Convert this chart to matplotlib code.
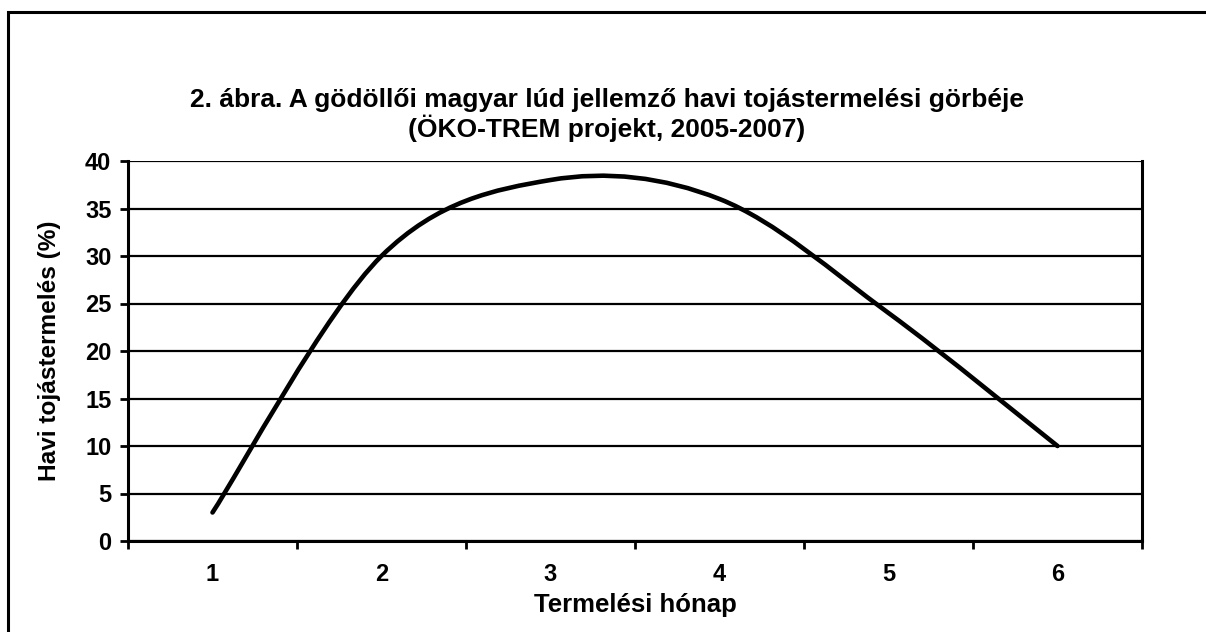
import numpy as np
import matplotlib
matplotlib.use("Agg")
from matplotlib import pyplot as plt
from matplotlib.path import Path
from matplotlib.patches import PathPatch, Rectangle

plt.rcParams['font.family'] = ['Liberation Sans', 'DejaVu Sans']
plt.rcParams['font.weight'] = 'bold'

months = [1, 2, 3, 4, 5, 6]
production = [3, 30, 38, 36, 24, 10]
y_ticks = [0, 5, 10, 15, 20, 25, 30, 35, 40]

title_lines = ["2. ábra. A gödöllői magyar lúd jellemző havi tojástermelési görbéje",
               "(ÖKO-TREM projekt, 2005-2007)"]
xlabel = "Termelési hónap"
ylabel = "Havi tojástermelés (%)"

W, H = 1206, 632
fig = plt.figure(figsize=(W / 100, H / 100), dpi=100)
ax = fig.add_axes([128 / W, 1 - 541 / H, (1142 - 128) / W, (541 - 161) / H])

# smoothed line like Excel (Catmull-Rom as cubic Bezier)
pts = np.column_stack([months, production]).astype(float)
n = len(pts)
verts = [pts[0]]
codes = [Path.MOVETO]
for i in range(n - 1):
    p0 = pts[i - 1] if i > 0 else pts[i]
    p1 = pts[i]
    p2 = pts[i + 1]
    p3 = pts[i + 2] if i + 2 < n else pts[i + 1]
    c1 = p1 + (p2 - p0) / 6
    c2 = p2 - (p3 - p1) / 6
    verts += [c1, c2, p2]
    codes += [Path.CURVE4] * 3
ax.add_patch(PathPatch(Path(verts, codes), fill=False, lw=3.3, color='black',
                       capstyle='round', joinstyle='round', zorder=3))

ax.set_xlim(0.5, 6.5)
ax.set_ylim(0, 40)
ax.set_yticks(y_ticks)
ax.set_xticks(months)
ax.set_xticks(np.arange(0.5, 7, 1), minor=True)
ax.tick_params(axis='x', which='major', length=0, pad=16, labelsize=17)
ax.tick_params(axis='x', which='minor', length=6, width=2, direction='out')
ax.tick_params(axis='y', length=6, width=2, direction='out', pad=6, labelsize=17)
for lab in ax.get_xticklabels() + ax.get_yticklabels():
    lab.set_fontweight('bold')

ax.grid(axis='y', color='black', lw=1.6)
ax.set_axisbelow(True)
ax.spines['top'].set_visible(False)
for s in ['left', 'right', 'bottom']:
    ax.spines[s].set_linewidth(2.2)

ax.set_xlabel(xlabel, fontsize=18.5, fontweight='bold', labelpad=5)
ax.set_ylabel(ylabel, fontsize=17.6, fontweight='bold', labelpad=17)
for k, line in enumerate(title_lines):
    fig.text(607 / W, 1 - (100 + 28 * k) / H, line, ha='center', va='center',
             fontsize=19, fontweight='bold')

# outer chart border
fig.patches.append(Rectangle((8 / W, -0.1), 1.2, 1 - 12 / H + 0.1,
                             transform=fig.transFigure, fill=False,
                             lw=2.2, edgecolor='black'))

fig.savefig("out.png", dpi=100)
